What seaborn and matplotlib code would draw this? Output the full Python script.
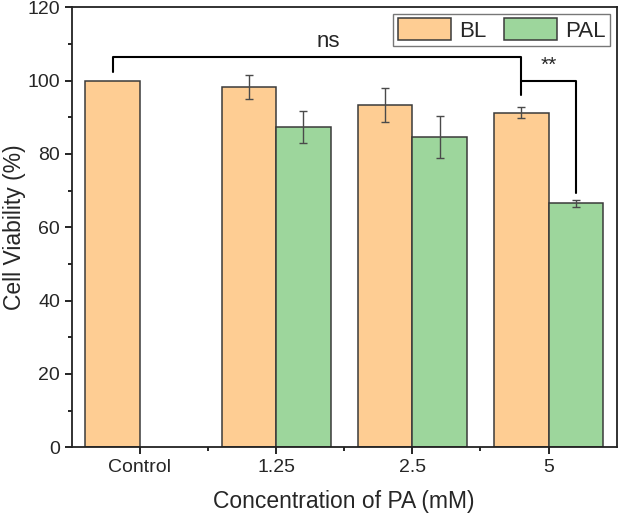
import pandas as pd
import matplotlib.pyplot as plt
import seaborn as sns
from matplotlib.ticker import MultipleLocator, FixedLocator

# Данные
categories = ['Control', '1.25', '2.5', '5']
bl_mean = [100.0, 98.3, 93.3, 91.3]
bl_sd = [0.0, 3.3, 4.6, 1.4]
pal_cats = ['1.25', '2.5', '5']
pal_mean = [87.4, 84.7, 66.5]
pal_sd = [4.3, 5.7, 1.0]

groups = ['BL', 'PAL']
colors = {'BL': '#FECD93', 'PAL': '#9DD69C'}

df = pd.concat([
    pd.DataFrame({'conc': categories, 'group': 'BL', 'value': bl_mean, 'sd': bl_sd}),
    pd.DataFrame({'conc': pal_cats, 'group': 'PAL', 'value': pal_mean, 'sd': pal_sd}),
], ignore_index=True)

sns.set_style('ticks')
plt.rcParams['font.family'] = ['Liberation Sans', 'DejaVu Sans']

fig = plt.figure(figsize=(6.18, 5.17), dpi=100)
ax = fig.add_axes([0.116, 0.1348, 0.998 - 0.116, 0.9859 - 0.1348])

sns.barplot(data=df, x='conc', y='value', hue='group', order=categories,
            hue_order=groups, palette=colors, width=0.8, errorbar=None,
            edgecolor='#3a3a3a', linewidth=1.1, ax=ax, saturation=1)

# Планки погрешностей по центрам столбиков
centers = {}
for grp, cont in zip(groups, ax.containers):
    sub = df[df['group'] == grp]
    for bar, (_, row) in zip(cont, sub.iterrows()):
        cx = bar.get_x() + bar.get_width() / 2
        centers[(grp, row['conc'])] = cx
        if row['sd'] > 0:
            ax.errorbar(cx, row['value'], yerr=row['sd'], color='#4a4a4a',
                        lw=1, capsize=3, capthick=1, zorder=3)

# Скобки значимости
x_ctrl = centers[('BL', 'Control')]
x_bl5 = centers[('BL', '5')]
x_pal5 = centers[('PAL', '5')]
ax.plot([x_ctrl, x_ctrl, x_bl5, x_bl5], [102.4, 106.5, 106.5, 96.1],
        color='black', lw=1.5, zorder=4)
ax.plot([x_bl5, x_pal5, x_pal5], [100.0, 100.0, 69.3],
        color='black', lw=1.5, zorder=4)
ax.text(1.38, 109.2, 'ns', ha='center', va='baseline', fontsize=16)
ax.text(3.0, 104.3, '**', ha='center', va='center', fontsize=15)

ax.set_xlim(-0.5, 3.5)
ax.set_ylim(0, 120)
ax.yaxis.set_major_locator(MultipleLocator(20))
ax.yaxis.set_minor_locator(MultipleLocator(10))
ax.xaxis.set_minor_locator(FixedLocator([0.5, 1.5, 2.5]))
ax.tick_params(axis='both', which='major', length=5, width=1.2, labelsize=14, color='black')
ax.tick_params(axis='both', which='minor', length=3, width=1.2, color='black')
for sp in ax.spines.values():
    sp.set_visible(True)
    sp.set_linewidth(1.3)
    sp.set_color('#222222')

ax.set_xlabel('Concentration of PA (mM)', fontsize=16.5, labelpad=10)
ax.set_ylabel('Cell Viability (%)', fontsize=16.5, labelpad=1)

leg = ax.legend(loc='upper right', ncol=2, fontsize=16, frameon=True,
                fancybox=False, edgecolor='#555555', handlelength=2.4,
                handleheight=1.15, columnspacing=0.8, handletextpad=0.35,
                borderpad=0.2, borderaxespad=0.3)
leg.get_frame().set_linewidth(1.0)

fig.savefig('out.png', dpi=100)
plt.close(fig)
